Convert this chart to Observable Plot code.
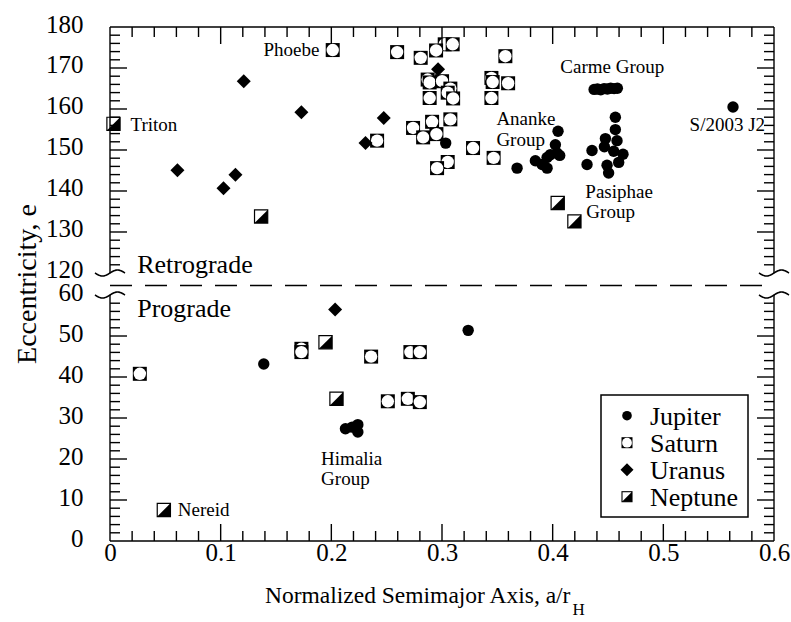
<!DOCTYPE html>
<html><head><meta charset="utf-8">
<script src="https://cdn.jsdelivr.net/npm/d3@7"></script>
<script src="https://cdn.jsdelivr.net/npm/@observablehq/plot@0.6"></script>
<style>
body{margin:0;background:#fff;}
#wrap{position:relative;width:791px;height:622px;}
</style></head>
<body><div id="wrap"></div>
<script>
// ---- data: [normalized semimajor axis a/rH, value on y axis] ----
const jupiter = [
  [0.3029,151.8],
  [0.4044,154.7],[0.4020,151.4],[0.4035,149.4],[0.3975,149.0],[0.3945,148.3],[0.4059,148.8],[0.3839,147.5],[0.3900,146.6],[0.3945,145.7],[0.3674,145.7],
  [0.437,164.9],[0.440,165.0],[0.443,164.8],[0.446,165.1],[0.449,165.0],[0.452,165.2],[0.455,165.1],[0.458,165.2],
  [0.4562,158.1],[0.4562,155.1],[0.4472,152.9],[0.4577,152.4],[0.4351,150.0],[0.4463,150.9],[0.4547,149.8],[0.4631,149.1],[0.4592,147.1],[0.4306,146.6],[0.4487,146.4],[0.4501,144.5],
  [0.5625,160.6],
  [0.1385,43.3],[0.3232,51.5],[0.2123,27.5],[0.2184,27.9],[0.2235,28.5],[0.2235,26.7]
];
const saturn = [
  [0.2008,174.5],[0.2590,174.0],[0.2803,172.6],[0.3020,175.9],[0.3092,175.9],[0.2942,174.4],[0.3568,173.0],
  [0.2866,167.3],[0.2884,166.6],[0.2996,166.9],[0.3071,165.1],[0.3047,164.1],[0.3096,162.7],[0.2884,162.8],
  [0.3442,167.7],[0.3453,166.7],[0.3593,166.4],[0.3442,162.8],
  [0.2734,155.5],[0.2906,157.0],[0.3071,157.6],[0.2825,153.2],[0.2945,154.0],[0.2409,152.4],[0.3276,150.6],[0.3462,148.2],[0.3047,147.2],[0.2951,145.7],
  [0.0265,40.9],[0.1725,47.0],[0.1725,46.2],[0.2355,45.1],[0.2506,34.2],[0.2710,46.2],[0.2795,46.2],[0.2687,34.8],[0.2795,34.0]
];
const uranus = [
  [0.0605,145.2],[0.1021,140.8],[0.1129,144.1],[0.1204,166.9],[0.1725,159.3],[0.2304,151.8],[0.2469,157.9],[0.2960,169.8],
  [0.2030,56.6]
];
const neptune = [
  [0.0027,156.5],[0.1361,133.9],[0.4041,137.2],[0.4192,132.7],
  [0.1943,48.6],[0.2042,34.8],[0.0482,7.7]
];
const yTickLabels = [0,10,20,30,40,50,60,120,130,140,150,160,170,180];
const xTickLabels = [0,0.1,0.2,0.3,0.4,0.5,0.6];
const noteLabelsLeft = [["Phoebe",0.1888,174.6]]; // right-aligned to the point
const noteLabels = [ // [text, a, y]
  ["Triton",0.0181,156.3],
  ["Carme Group",0.4065,170.3],
  ["Ananke",0.3487,157.6],
  ["Group",0.3487,152.7],
  ["Pasiphae",0.4291,139.9],
  ["Group",0.4300,135.1],
  ["S/2003 J2",0.5233,156.2],
  ["Himalia",0.1903,20.2],
  ["Group",0.1903,15.3],
  ["Nereid",0.0608,7.7]
];
const regionLabels = [["Retrograde",0.0241,122.1],["Prograde",0.0241,56.8]];
const legendItems = ["Jupiter","Saturn","Uranus","Neptune"];
const FONT = "Liberation Serif, serif";

// ---- broken axis: retrograde values shifted down to sit just above 60 ----
const GAP = 5.37;
const tr = v => v >= 90 ? v - 60 + GAP : v;

const sq = {draw(c, s){const r=Math.sqrt(s/Math.PI); c.moveTo(-r,-r); c.lineTo(r,-r); c.lineTo(r,r); c.lineTo(-r,r); c.closePath();}};
const tri = {draw(c, s){const r=Math.sqrt(s/Math.PI); c.moveTo(r,-r); c.lineTo(r,r); c.lineTo(-r,r); c.closePath();}};
const dia = {draw(c, s){const r=Math.sqrt(s/Math.PI); c.moveTo(0,-r); c.lineTo(r,0); c.lineTo(0,r); c.lineTo(-r,0); c.closePath();}};

function frameMark(index, scales, values, dim) {
  const {x, y} = scales;
  const X0 = x(0), X1 = x(0.6);
  const YT = y(tr(180)), YB = y(tr(0)), YU = y(tr(120)), YL = y(tr(60));
  const g = d3.create("svg:g").attr("fill","none").attr("stroke","#000").attr("stroke-width",1.4);
  const line = (a,b,c,d) => g.append("line").attr("x1",a).attr("y1",b).attr("x2",c).attr("y2",d);
  line(X0,YT,X1,YT); line(X0,YB,X1,YB);
  line(X0,YT,X0,YU); line(X0,YL,X0,YB); line(X1,YT,X1,YU); line(X1,YL,X1,YB);
  d3.range(1,30).forEach(i => {
    const px = x(i*0.02), L = i%5===0 ? 17 : 10;
    line(px,YB,px,YB-L); line(px,YT,px,YT+L);
  });
  const yv = d3.range(1,30).map(i=>i*2).concat(d3.range(1,30).map(i=>120+i*2));
  yv.forEach(v => {
    const py = y(tr(v)), L = v%10===0 ? 17 : 10;
    line(X0,py,X0+L,py); line(X1,py,X1-L,py);
  });
  const wave = d3.line();
  for (const px of [X0,X1]) for (const py of [YU,YL]) {
    const pts = d3.range(-15,15.5,1).map(t => [px+t, py - 3*Math.sin(t/15*Math.PI)]);
    g.append("path").attr("d", wave(pts)).attr("stroke-width",1.6);
  }
  const YD = (YU+YL)/2 + 1.5;
  line(X0,YD,X1,YD).attr("stroke-dasharray","22,13").attr("stroke-width",1.3);
  // legend box inside the plot area
  const LX = 601, LY = 395, LW = 147, LH = 122;
  g.append("rect").attr("x",LX).attr("y",LY).attr("width",LW).attr("height",LH).attr("fill","#fff").attr("stroke-width",1.5);
  const txt = g.append("g").attr("stroke","none").attr("fill","#000").attr("font-family",FONT).attr("text-anchor","start");
  legendItems.forEach((name, i) => {
    const cy = LY + 20.7 + i*27, cx = LX + 26;
    const it = g.append("g").attr("transform",`translate(${cx},${cy})`).attr("stroke","none");
    if (name === "Jupiter") it.append("circle").attr("r",4.8).attr("fill","#000");
    if (name === "Saturn") { it.append("rect").attr("x",-5.5).attr("y",-5.5).attr("width",11).attr("height",11).attr("fill","#000"); it.append("circle").attr("r",4.9).attr("fill","#fff"); }
    if (name === "Uranus") it.append("path").attr("d","M0,-6.5L6.5,0L0,6.5L-6.5,0Z").attr("fill","#000");
    if (name === "Neptune") { it.append("rect").attr("x",-5).attr("y",-5).attr("width",10).attr("height",10).attr("fill","#fff").attr("stroke","#000").attr("stroke-width",1.1); it.append("path").attr("d","M5,-5L5,5L-5,5Z").attr("fill","#000"); }
    txt.append("text").attr("x", LX + 49).attr("y", cy).attr("dy","0.34em").attr("font-size",26).text(name);
  });
  // y title
  txt.append("text")
    .attr("transform",`translate(26,${(YT+YB)/2}) rotate(-90)`)
    .attr("text-anchor","middle").attr("dy","0.35em").attr("font-size",28)
    .text("Eccentricity, e");
  // x title with subscript H
  const xt = txt.append("text").attr("x", 265).attr("y", YB + 62).attr("font-size", 23.5);
  xt.append("tspan").text("Normalized Semimajor Axis, a/r");
  xt.append("tspan").attr("font-size", 17).attr("dx", 2).attr("dy", 12).text("H");
  return g.node();
}

const X = d => d[0], Y = d => tr(d[1]);
const chart = Plot.plot({
  width: 791, height: 622,
  marginLeft: 110, marginRight: 17, marginTop: 27, marginBottom: 81,
  x: {domain: [0, 0.6], axis: null},
  y: {domain: [0, 120 + GAP], axis: null},
  style: {fontFamily: FONT, fontSize: "25px", background: "white", color: "black"},
  marks: [
    Plot.text(yTickLabels, {x: 0, y: d => tr(d), text: d => String(d), textAnchor: "end", dx: -27, dy: -3, fontSize: 25}),
    Plot.text(xTickLabels, {x: d => d, y: 0, text: d => d === 0 ? "0" : String(d), dy: 11, fontSize: 25}),
    Plot.dot(jupiter, {x: X, y: Y, r: 5.7, fill: "black", symbol: "circle"}),
    ...saturn.flatMap(d => [
      Plot.dot([d], {x: X, y: Y, r: 7, symbol: sq, fill: "black"}),
      Plot.dot([d], {x: X, y: Y, r: 6.2, symbol: "circle", fill: "white"})
    ]),
    Plot.dot(uranus, {x: X, y: Y, r: 7, symbol: dia, fill: "black"}),
    Plot.dot(neptune, {x: X, y: Y, r: 6.6, symbol: sq, fill: "white", stroke: "black", strokeWidth: 1.2}),
    Plot.dot(neptune, {x: X, y: Y, r: 6.6, symbol: tri, fill: "black"}),
    Plot.text(noteLabels, {x: d => d[1], y: d => tr(d[2]), text: d => d[0], textAnchor: "start", fontSize: 19}),
    Plot.text(noteLabelsLeft, {x: d => d[1], y: d => tr(d[2]), text: d => d[0], textAnchor: "end", fontSize: 19}),
    Plot.text(regionLabels, {x: d => d[1], y: d => tr(d[2]), text: d => d[0], textAnchor: "start", fontSize: 26}),
    frameMark
  ]
});

document.getElementById("wrap").appendChild(chart);
</script>
</body></html>
